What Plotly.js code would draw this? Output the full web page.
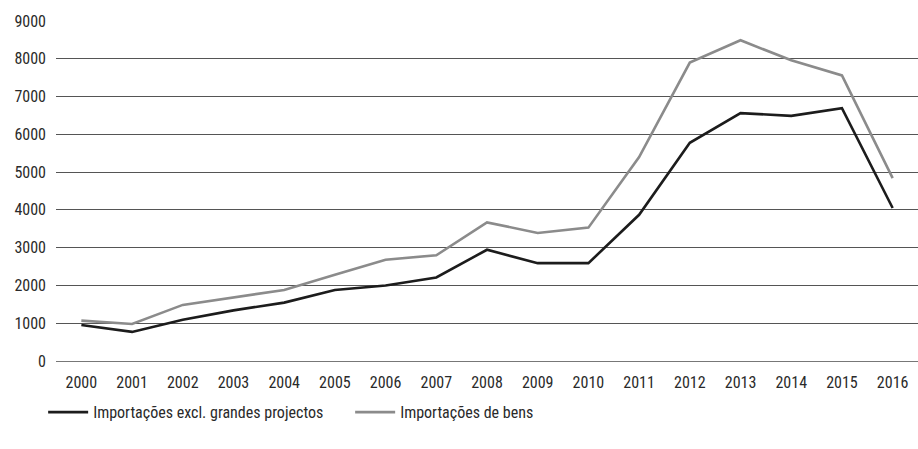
<!DOCTYPE html>
<html><head><meta charset="utf-8">
<script src="https://cdn.plot.ly/plotly-3.0.1.min.js"></script>
<style>body{margin:0;background:#fff}#c{width:918px;height:449px}</style>
</head><body><div id="c"></div>
<script>
const years = ["2000","2001","2002","2003","2004","2005","2006","2007","2008","2009","2010","2011","2012","2013","2014","2015","2016"];
const exclGrandes = [955,770,1090,1340,1545,1880,2000,2210,2945,2590,2590,3870,5775,6560,6490,6690,4050];
const importBens = [1070,980,1485,1680,1880,2280,2680,2800,3670,3390,3530,5400,7900,8490,7960,7560,4840];
const names = ["Importações excl. grandes projectos","Importações de bens"];

const font = "Roboto Condensed, Roboto, Liberation Sans, sans-serif";
const traces = [
  {x: years, y: exclGrandes, name: names[0], type: "scatter", mode: "lines", line: {color: "#1c1c1c", width: 2.6}},
  {x: years, y: importBens, name: names[1], type: "scatter", mode: "lines", line: {color: "#8b8b8b", width: 2.6}}
];
const layout = {
  width: 918, height: 449,
  margin: {l: 56, r: 0, t: 21, b: 88, autoexpand: false},
  paper_bgcolor: "#fff", plot_bgcolor: "#fff",
  font: {family: font, size: 16, color: "#2a2a2a"},
  showlegend: true,
  legend: {orientation: "h", xref: "container", yref: "container", x: 0.047, xanchor: "left", y: 0.082, yanchor: "middle",
           font: {size: 16, color: "#2a2a2a"}, itemwidth: 40, entrywidth: 252, entrywidthmode: "pixels", traceorder: "normal"},
  xaxis: {type: "category", range: [-0.5, 16.5], showgrid: false, zeroline: false, showline: false, ticks: "", tickfont: {size: 16, color: "#2a2a2a"}, ticklabelstandoff: 10},
  yaxis: {range: [0, 9000], dtick: 1000, showgrid: true, gridcolor: "#555", gridwidth: 1, zeroline: true, zerolinecolor: "#777", zerolinewidth: 1, showline: false, ticks: "", tickfont: {size: 16, color: "#2a2a2a"}, ticklabelstandoff: 9}
};
Plotly.newPlot("c", traces, layout, {displayModeBar: false, staticPlot: true});
</script></body></html>
